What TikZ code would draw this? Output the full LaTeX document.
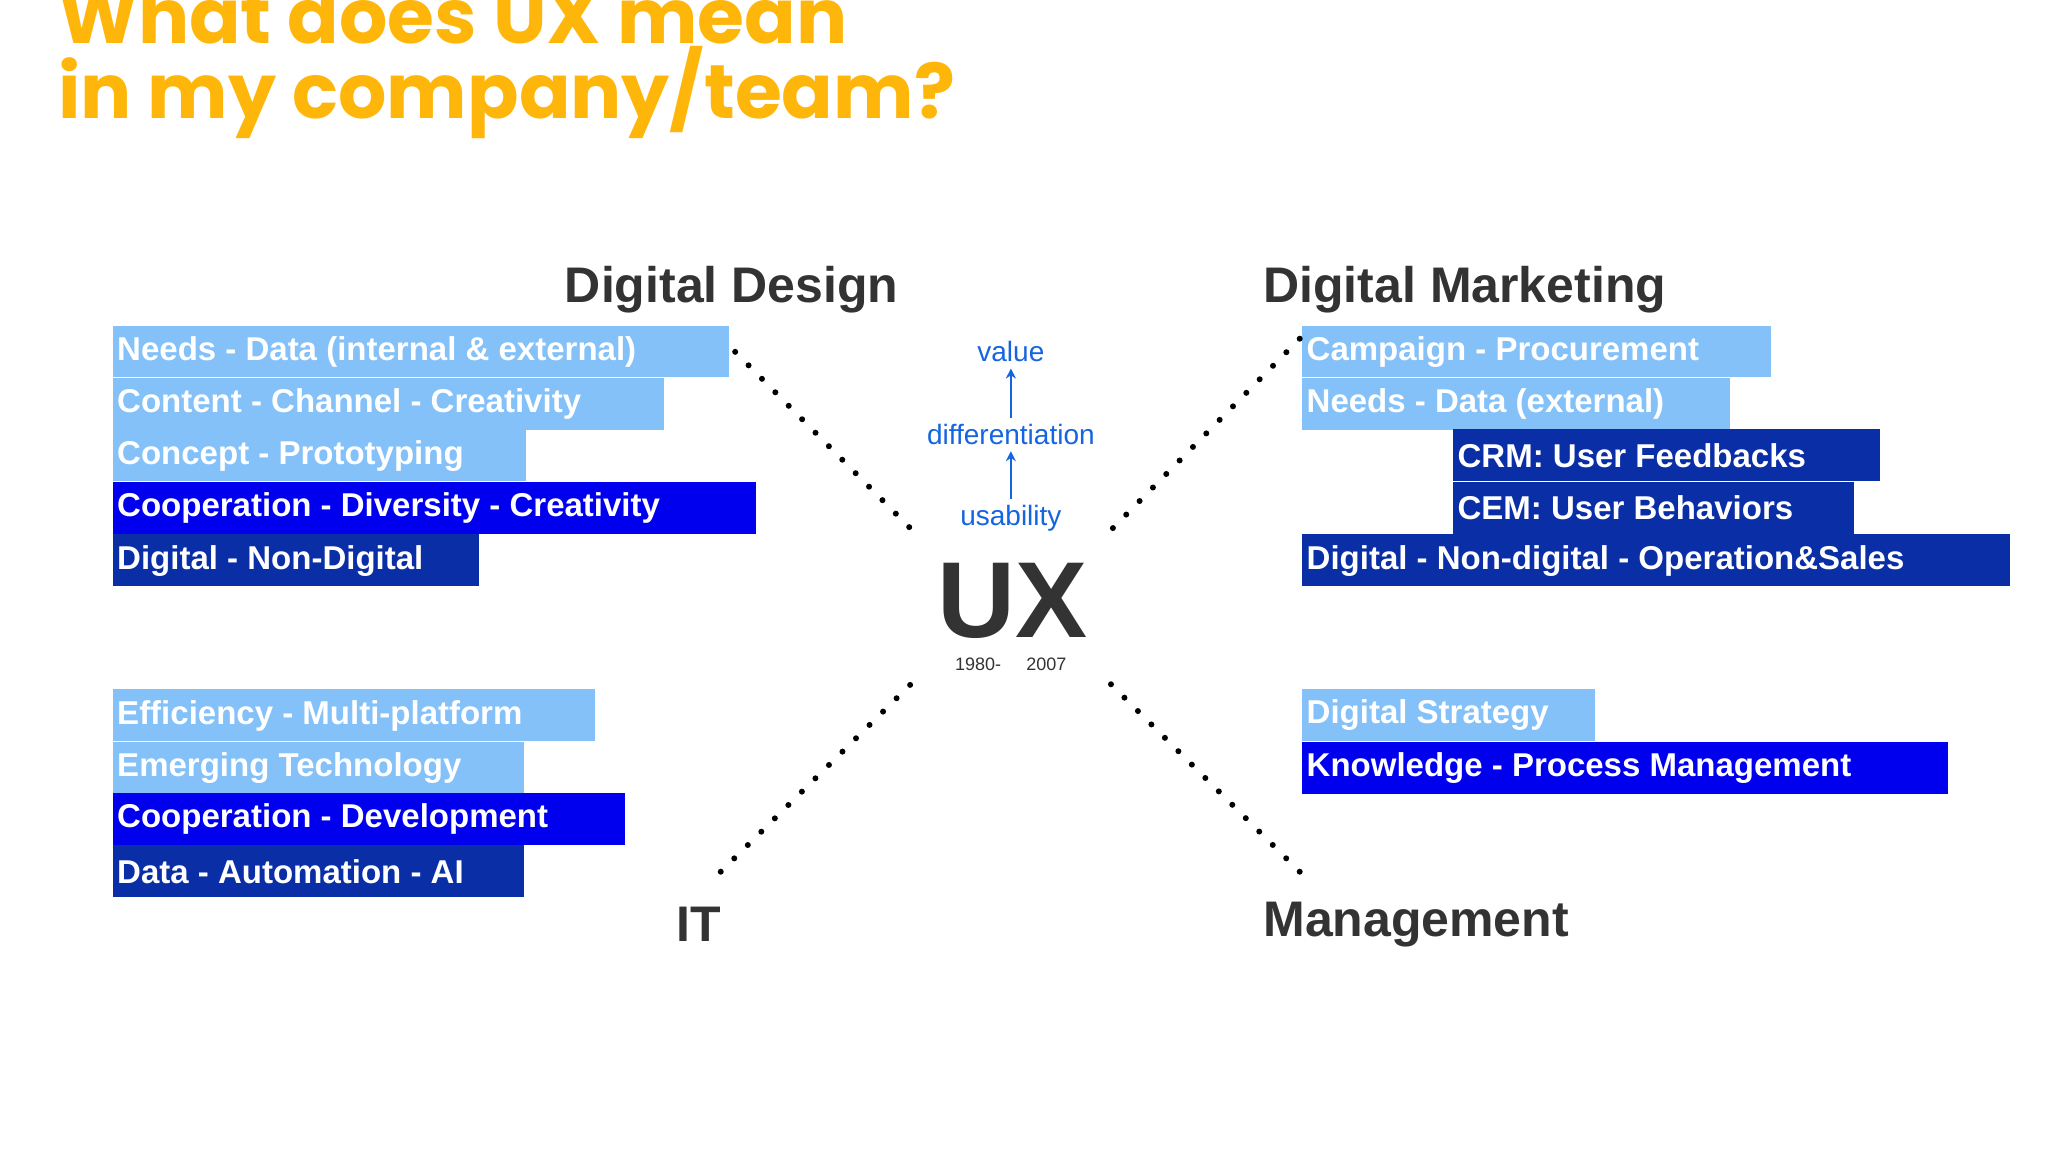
\documentclass[tikz,border=0pt]{standalone}
\usepackage{fontspec}
\usetikzlibrary{arrows.meta}
\setmainfont{Liberation Sans}
\newfontfamily\titlefont{Poppins}
\definecolor{lb}{HTML}{85C1F9}
\definecolor{bb}{HTML}{0000EE}
\definecolor{db}{HTML}{0A2EA6}
\definecolor{ttl}{HTML}{FFB60A}
\definecolor{hd}{HTML}{333333}
\definecolor{ab}{HTML}{1565E0}
\tikzset{
  txt/.style={anchor=west,inner sep=0pt,text=white,font=\fontsize{16.5}{18}\selectfont\bfseries},
  hdr/.style={anchor=west,inner sep=0pt,text=hd,font=\fontsize{25}{28}\selectfont\bfseries},
  sm/.style={inner sep=0pt,text=ab,font=\fontsize{14}{16}\selectfont},
  dots/.style={line width=3pt,line cap=round,dash pattern=on 0pt off 9.5pt,black},
  upar/.style={ab,line width=1.2pt,-{Stealth[length=5pt,width=5pt]}},
}
\newcommand\bx[6]{\fill[#5] (#1,#2) rectangle (#3,#2+39.5);
  \node[txt] (#6) at (#1+3,#2+20) {#4};}
\begin{document}
\begin{tikzpicture}[x=0.6564pt,y=-0.6564pt]
\useasboundingbox[fill=white] (0,0) rectangle (1560,877.5);
\node[anchor=base west,inner sep=0pt,text=ttl,align=left,font=\fontsize{38}{34}\selectfont\titlefont\bfseries] (title) at (44,90) {What does UX mean\\in my company/team?};
% headers
\node[hdr] (dd) at (430,221) {Digital Design};
\node[hdr] (dm) at (962,221) {Digital Marketing};
\node[hdr] (it) at (515,704) {IT};
\node[hdr] (mg) at (962,704) {Management};
% left top
\bx{86}{248}{555}{Needs - Data (internal \& external)}{lb}{a1}
\bx{86}{288}{506}{Content - Channel - Creativity}{lb}{a2}
\bx{86}{327}{401}{Concept - Prototyping}{lb}{a3}
\bx{86}{367}{576}{Cooperation - Diversity - Creativity}{bb}{a4}
\bx{86}{407}{365}{Digital - Non-Digital}{db}{a5}
% left bottom
\bx{86}{525}{453}{Efficiency - Multi-platform}{lb}{b1}
\bx{86}{565}{399}{Emerging Technology}{lb}{b2}
\bx{86}{604}{476}{Cooperation - Development}{bb}{b3}
\bx{86}{644}{399}{Data - Automation - AI}{db}{b4}
% right top
\bx{992}{248}{1349}{Campaign - Procurement}{lb}{c1}
\bx{992}{288}{1318}{Needs - Data (external)}{lb}{c2}
\bx{1107}{327}{1432}{CRM: User Feedbacks}{db}{c3}
\bx{1107}{367}{1412}{CEM: User Behaviors}{db}{c4}
\bx{992}{407}{1531}{Digital - Non-digital - Operation\&Sales}{db}{c5}
% right bottom
\bx{992}{525}{1215}{Digital Strategy}{lb}{d1}
\bx{992}{565}{1484}{Knowledge - Process Management}{bb}{d2}
% center
\node[inner sep=0pt,text=hd,font=\fontsize{54}{56}\selectfont\bfseries] (ux) at (771,458) {UX};
\node[inner sep=0pt,text=hd,font=\fontsize{9}{10}\selectfont] (y1) at (745,506) {1980-};
\node[inner sep=0pt,text=hd,font=\fontsize{9}{10}\selectfont] (y2) at (797,506) {2007};
\node[sm] (val) at (770,268) {value};
\node[sm] (dif) at (770,331) {differentiation};
\node[sm] (usa) at (770,395) {usability};
\draw[upar] ([yshift=3pt]usa.north) -- ([yshift=-3pt]dif.south);
\draw[upar] ([yshift=3pt]dif.north) -- ([yshift=-3pt]val.south);
% dotted connectors
\coordinate (p1) at (560,268); \coordinate (q1) at (698,407);
\coordinate (p2) at (990,258); \coordinate (q2) at (845,405);
\coordinate (p3) at (549,664); \coordinate (q3) at (698,517);
\coordinate (p4) at (990,664); \coordinate (q4) at (842,517);
\draw[dots] (p1) -- (q1);
\draw[dots] (p2) -- (q2);
\draw[dots] (p3) -- (q3);
\draw[dots] (p4) -- (q4);
\end{tikzpicture}
\end{document}
